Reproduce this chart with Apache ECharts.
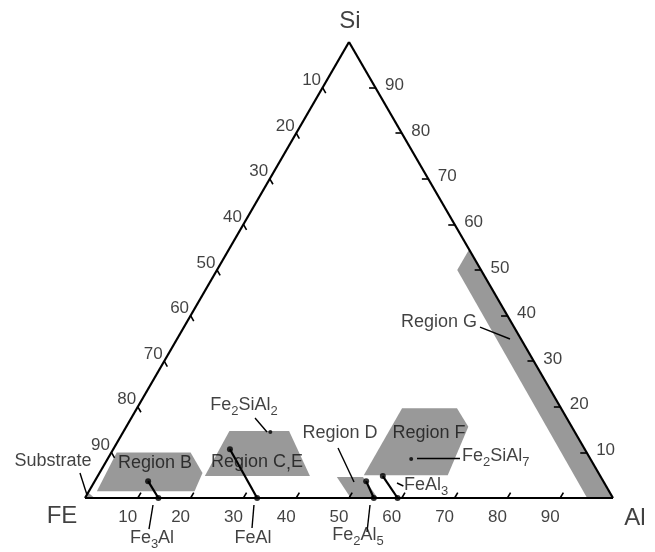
<!DOCTYPE html>
<html><head><meta charset="utf-8">
<script src="https://cdn.jsdelivr.net/npm/echarts@6/dist/echarts.min.js"></script>
<style>html,body{margin:0;padding:0;background:#fff}#c{width:655px;height:552px}</style>
</head><body><div id="c"></div>
<script>
// Compositions as [Al, Si] (Fe = 100 - Al - Si)
const tickValues = [10, 20, 30, 40, 50, 60, 70, 80, 90];
const vertexNames = ['FE', 'Al', 'Si'];

const substrate = [[0, 0], [1.8, 0], [0, 1.2]];
const regionB  = [[1, 10], [15, 10], [19.5, 5.5], [20, 1.5], [1.5, 1.5]];
const regionCE = [[20, 14.7], [31.3, 14.7], [40.2, 4.8], [20.3, 4.8]];
const regionD  = [[45.4, 4.6], [50.35, 4.6], [55.2, 0.2], [50.1, 0.2]];
const regionF  = [[50.2, 19.7], [60.6, 19.7], [64.8, 15.6], [66.2, 5.0], [50.3, 5.0]];
const regionG  = [[45.5, 54.5], [45.5, 50], [95.1, 0], [100, 0]];
const regions = [substrate, regionB, regionCE, regionD, regionF, regionG];

// binary compounds on the Fe-Al edge
const binaryNames = ['Fe3Al', 'FeAl', 'Fe2Al5', 'FeAl3'];
const binaryAl = [13.9, 32.6, 54.7, 59.2];
// measured points in regions, tied to the binary compounds
const regionPoints = [[10.1, 3.7], [22.1, 10.7], [51.4, 3.7], [54.0, 4.8]];
// ternary compounds
const ternaryNames = ['Fe2SiAl2', 'Fe2SiAl7'];
const ternaryPoints = [[27.85, 14.5], [57.5, 8.55]];

const S3 = Math.sqrt(3) / 2;
const toXY = (al, si) => [al + si / 2, si * S3];

const FONT = 'Liberation Sans, Arial, sans-serif';
const TXT = '#111';
const rich = {
  n: {fontSize: 18, lineHeight: 21, verticalAlign: 'top', color: TXT, fontFamily: FONT},
  s: {fontSize: 13, lineHeight: 15, padding: [8, 0, 0, 0], verticalAlign: 'top', color: TXT, fontFamily: FONT}
};
const fmt = name => name.replace(/([A-Za-z]+)|(\d+)/g, (m, a, d) => a ? '{n|' + a + '}' : '{s|' + d + '}');

// annotation placement (cartesian units of the hidden axes)
const annotations = [
  {text: 'Substrate', pos: [-6.06, 6.65], line: [[-0.95, 4.75], [0.38, 0.57]]},
  {text: 'Region B', pos: [13.26, 6.27]},
  {text: 'Region C,E', pos: [32.58, 6.46]},
  {text: 'Fe2SiAl2', pos: [30.11, 17.28], line: [[32.2, 15.19], [34.47, 12.53]]},
  {text: 'Region D', pos: [48.3, 11.96], line: [[47.92, 9.5], [50.95, 3.04]]},
  {text: 'Region F', pos: [65.15, 11.96]},
  {text: 'Fe2SiAl7', pos: [71.4, 7.6], align: 'left', line: [[62.88, 7.6], [71.02, 7.6]]},
  {text: 'FeAl3', pos: [60.4, 2.09], align: 'left', line: [[59.09, 2.85], [60.3, 2.28]]},
  {text: 'Region G', pos: [67.05, 33.04], line: [[74.81, 32.47], [80.49, 30.2]]},
  {text: 'Fe3Al', pos: [12.69, -7.98], line: [[12.88, -1.33], [12.12, -5.89]]},
  {text: 'FeAl', pos: [31.82, -7.98], line: [[32.0, -1.33], [31.63, -5.7]]},
  {text: 'Fe2Al5', pos: [51.7, -7.41], line: [[53.98, -1.33], [53.41, -6.46]]}
];

const TL = 1.2;
const tickLines = [];
const tickLabels = [];
tickValues.forEach(v => {
  tickLines.push({coords: [toXY(v, 0), toXY(v, TL)]});
  tickLines.push({coords: [toXY(0, 100 - v), toXY(TL, 100 - v - TL)]});
  tickLines.push({coords: [toXY(100 - v, v), toXY(100 - v - TL, v)]});
  tickLabels.push({value: toXY(v, 0), label: {offset: [-10, 19]}, name: String(v)});
  tickLabels.push({value: toXY(0, 100 - v), label: {offset: [-11, -7]}, name: String(v)});
  tickLabels.push({value: toXY(100 - v, v), label: {offset: [19, -2]}, name: String(v)});
});

const vFE = toXY(0, 0), vAl = toXY(100, 0), vSi = toXY(0, 100);
const vertexLabels = [
  {value: vFE, name: vertexNames[0], label: {offset: [-23, 18]}},
  {value: vAl, name: vertexNames[1], label: {offset: [22, 20]}},
  {value: vSi, name: vertexNames[2], label: {offset: [1, -21]}}
];

const tieLines = regionPoints.map((p, i) => ({coords: [toXY(p[0], p[1]), toXY(binaryAl[i], 0)]}));
const leaderLines = annotations.filter(a => a.line).map(a => ({coords: a.line}));

const chart = echarts.init(document.getElementById('c'));
chart.setOption({
  animation: false,
  backgroundColor: '#fff',
  grid: {left: 85, top: 42, width: 528, height: 456},
  xAxis: {type: 'value', min: 0, max: 100, show: false},
  yAxis: {type: 'value', min: 0, max: 86.6, show: false},
  series: [
    {
      type: 'custom', clip: false, z: 1,
      data: regions.map((r, i) => ({value: toXY(r[0][0], r[0][1]), idx: i})),
      renderItem: (params, api) => {
        const pts = regions[params.dataIndex].map(p => api.coord(toXY(p[0], p[1])));
        return {type: 'polygon', shape: {points: pts}, style: {fill: '#999999'}};
      }
    },
    {
      type: 'lines', coordinateSystem: 'cartesian2d', clip: false, z: 3,
      lineStyle: {color: '#000', width: 2.2, opacity: 1},
      data: [{coords: [vFE, vAl]}, {coords: [vAl, vSi]}, {coords: [vSi, vFE]}]
    },
    {
      type: 'lines', coordinateSystem: 'cartesian2d', clip: false, z: 3,
      lineStyle: {color: '#000', width: 1.6, opacity: 1},
      data: tickLines
    },
    {
      type: 'lines', coordinateSystem: 'cartesian2d', clip: false, z: 4,
      lineStyle: {color: '#000', width: 2.2, opacity: 1},
      data: tieLines
    },
    {
      type: 'lines', coordinateSystem: 'cartesian2d', clip: false, z: 4,
      lineStyle: {color: '#000', width: 1.4, opacity: 1},
      data: leaderLines
    },
    {
      type: 'scatter', clip: false, z: 5, symbolSize: 6,
      itemStyle: {color: '#000'},
      data: regionPoints.map(p => toXY(p[0], p[1])).concat(binaryAl.map(a => toXY(a, 0)))
    },
    {
      type: 'scatter', clip: false, z: 5, symbolSize: 4,
      itemStyle: {color: '#000'},
      data: ternaryPoints.map(p => toXY(p[0], p[1]))
    },
    {
      type: 'scatter', clip: false, z: 6, symbolSize: 0, silent: true,
      label: {show: true, position: 'inside', formatter: p => p.name, color: '#111', fontSize: 17, fontFamily: FONT, align: 'center', verticalAlign: 'middle'},
      data: tickLabels
    },
    {
      type: 'scatter', clip: false, z: 6, symbolSize: 0, silent: true,
      label: {show: true, position: 'inside', formatter: p => p.name, color: TXT, fontSize: 24, fontFamily: FONT, align: 'center', verticalAlign: 'middle'},
      data: vertexLabels
    },
    {
      type: 'scatter', clip: false, z: 6, symbolSize: 0, silent: true,
      label: {show: true, position: 'inside', rich: rich, fontSize: 18, fontFamily: FONT, color: TXT, verticalAlign: 'middle'},
      data: annotations.map(a => ({
        value: a.pos, name: a.text,
        label: {formatter: fmt(a.text), align: a.align || 'center'}
      }))
    }
  ]
});
</script>
</body></html>
